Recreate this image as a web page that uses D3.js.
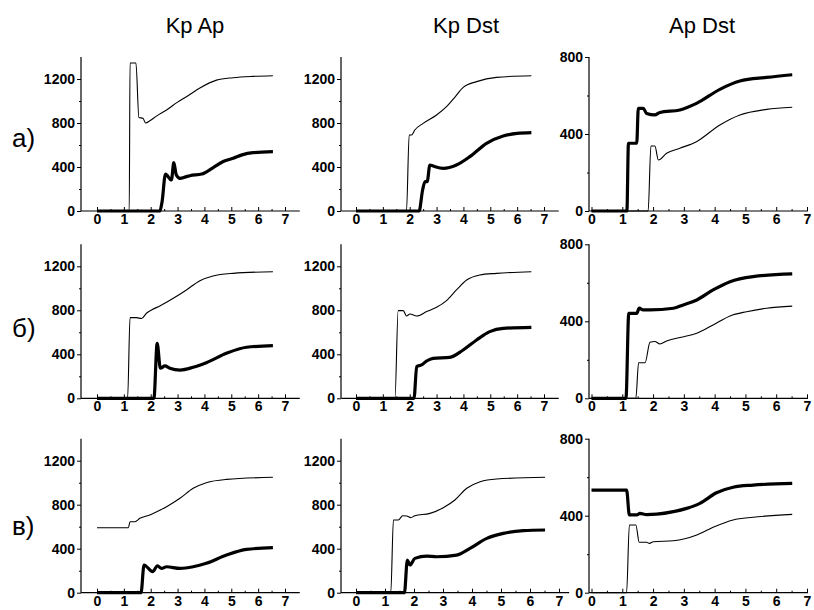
<!DOCTYPE html>
<html>
<head>
<meta charset="utf-8">
<script src="https://cdn.jsdelivr.net/npm/d3@7"></script>
<style>
  html, body { margin: 0; padding: 0; background: #fff; }
  svg { display: block; }
  .tick text { font-family: "Liberation Sans", Arial, sans-serif; font-weight: bold; font-size: 14px; }
</style>
</head>
<body>
<svg id="chart" width="814" height="610"></svg>
<script>
// Column headers and row markers
const columnTitles = ["Kp Ap", "Kp Dst", "Ap Dst"];
const rowLabels = ["а)", "б)", "в)"];

// Tick values
const xTicks = [0, 1, 2, 3, 4, 5, 6, 7];
const xMinorTicks = [0.5, 1.5, 2.5, 3.5, 4.5, 5.5, 6.5];
const yTicksWide = [0, 400, 800, 1200];
const yMinorWide = [200, 600, 1000];
const yTicksNarrow = [0, 400, 800];
const yMinorNarrow = [200, 600];

// Series: [x, value] pairs; "thin" and "thick" curves of every panel
// Row а
const a_KpAp_thin = [[0,0],[1.2,0],[1.23,1345],[1.45,1345],[1.56,850],[1.71,843],[1.81,800],[1.97,820],[2.2,860],[2.59,918],[3.0,990],[3.4,1050],[3.83,1118],[4.45,1190],[5.07,1212],[5.8,1224],[6.55,1230]];
const a_KpAp_thick = [[0,0],[2.34,0],[2.42,80],[2.55,336],[2.77,282],[2.86,439],[2.95,330],[3.09,297],[3.3,310],[3.46,321],[3.9,336],[4.3,390],[4.7,450],[5.07,479],[5.4,510],[5.81,530],[6.55,539]];
const a_KpDst_thin = [[0,0],[1.88,0],[1.98,691],[2.07,691],[2.19,736],[2.5,797],[3.0,873],[3.37,948],[3.7,1040],[3.99,1124],[4.49,1176],[5.23,1215],[6.53,1230]];
const a_KpDst_thick = [[0,0],[2.35,0],[2.48,191],[2.57,267],[2.65,267],[2.75,418],[2.87,409],[3.25,388],[3.74,418],[4.24,494],[4.86,615],[5.48,682],[6.0,705],[6.53,712]];
const a_ApDst_thin = [[0,0],[1.84,0],[1.93,338],[2.06,338],[2.17,265],[2.44,300],[2.87,326],[3.41,360],[4.17,447],[4.82,499],[5.69,528],[6.52,539]];
const a_ApDst_thick = [[0,0],[1.15,0],[1.2,352],[1.47,352],[1.52,533],[1.68,533],[1.79,507],[2.06,499],[2.22,512],[2.87,525],[3.41,559],[4.17,632],[4.82,675],[5.69,694],[6.52,708]];

// Row б
const b_KpAp_thin = [[0,0],[1.14,0],[1.23,733],[1.47,733],[1.66,725],[1.84,773],[2.03,803],[2.34,839],[2.84,909],[3.33,985],[3.83,1069],[4.32,1112],[5.07,1136],[6.55,1151]];
const b_KpAp_thick = [[0,0],[2.12,0],[2.24,500],[2.36,273],[2.53,294],[2.71,273],[3.09,257],[3.58,282],[4.07,324],[4.82,409],[5.57,464],[6.55,478]];
const b_KpDst_thin = [[0,0],[1.45,0],[1.57,797],[1.76,797],[1.88,748],[2.01,766],[2.26,748],[2.63,788],[3.0,827],[3.37,888],[3.74,985],[4.12,1075],[4.61,1121],[5.23,1136],[6.53,1151]];
const b_KpDst_thick = [[0,0],[2.16,0],[2.26,288],[2.44,303],[2.63,339],[2.87,363],[3.49,372],[3.99,439],[4.49,530],[4.98,606],[5.48,636],[6.53,645]];
const b_ApDst_thin = [[0,0],[1.44,0],[1.53,185],[1.74,185],[1.9,291],[2.06,295],[2.22,282],[2.44,298],[3.0,320],[3.42,338],[3.95,381],[4.5,428],[5.04,450],[5.69,468],[6.52,479]];
const b_ApDst_thick = [[0,0],[1.12,0],[1.21,441],[1.47,441],[1.55,468],[1.68,459],[1.9,459],[2.66,468],[2.98,485],[3.42,511],[3.95,563],[4.5,606],[5.25,632],[6.52,646]];

// Row в
const c_KpAp_thin = [[0,591],[1.17,591],[1.23,645],[1.41,645],[1.6,676],[1.85,697],[2.09,721],[2.59,782],[3.09,858],[3.58,949],[4.07,1000],[4.82,1030],[6.55,1049]];
const c_KpAp_thick = [[0,0],[1.64,0],[1.75,252],[2.07,191],[2.25,245],[2.4,221],[2.59,236],[3.09,221],[3.58,236],[4.07,267],[4.82,342],[5.57,394],[6.55,409]];
const c_KpDst_thin = [[0,0],[1.2,0],[1.29,661],[1.46,661],[1.61,700],[1.75,697],[1.89,682],[2.03,700],[2.55,721],[3.01,773],[3.41,843],[3.82,949],[4.28,1009],[4.85,1034],[6.52,1049]];
const c_KpDst_thick = [[0,0],[1.67,0],[1.77,297],[1.86,252],[2.03,312],[2.44,333],[2.78,327],[3.47,342],[3.93,403],[4.51,494],[5.08,539],[5.77,564],[6.52,570]];
const c_ApDst_thin = [[0,0],[1.14,0],[1.23,352],[1.44,352],[1.55,262],[1.79,262],[1.88,256],[2.01,265],[2.66,270],[3.42,300],[3.95,340],[4.6,378],[5.25,392],[6.52,407]];
const c_ApDst_thick = [[0,533],[1.14,533],[1.23,404],[1.47,404],[1.57,412],[1.79,406],[2.12,408],[2.66,421],[3.09,438],[3.52,464],[4.06,519],[4.6,548],[5.25,559],[6.52,568]];

const seriesGrid = [
  [[a_KpAp_thin, a_KpAp_thick], [a_KpDst_thin, a_KpDst_thick], [a_ApDst_thin, a_ApDst_thick]],
  [[b_KpAp_thin, b_KpAp_thick], [b_KpDst_thin, b_KpDst_thick], [b_ApDst_thin, b_ApDst_thick]],
  [[c_KpAp_thin, c_KpAp_thick], [c_KpDst_thin, c_KpDst_thick], [c_ApDst_thin, c_ApDst_thick]]
];

// ---- layout ----
const rowBase = [211, 398.3, 592.7];     // pixel row of value 0 in each row
const plotHeight = 154;
const colAxisX = [81, 341, 589];          // y axis position per column
const colXRange = [[97, 285], [356, 544], [591.5, 807]]; // pixels for x = 0 and x = 7
const colAxisSpan = [[-0.6, 7.55], [-0.55, 7.55], [-0.08, 7.03]];
const colYMax = [1400, 1400, 800];

const svg = d3.select("#chart");
const font = '"Liberation Sans", Arial, sans-serif';

// Column titles
const titleX = [195, 466, 702];
columnTitles.forEach((t, i) => {
  svg.append("text").attr("x", titleX[i]).attr("y", 33)
    .attr("text-anchor", "middle")
    .attr("font-family", font).attr("font-size", 22)
    .text(t);
});

// Row labels
const rowLabelY = [147, 337, 535];
rowLabels.forEach((t, i) => {
  svg.append("text").attr("x", 12).attr("y", rowLabelY[i])
    .attr("font-family", font).attr("font-size", 26)
    .text(t);
});

const line = (x, y) => d3.line().curve(d3.curveMonotoneX).x(d => x(d[0])).y(d => y(d[1]));

for (let r = 0; r < 3; r++) {
  for (let c = 0; c < 3; c++) {
    let xr = colXRange[c].slice();
    let span = colAxisSpan[c].slice();
    if (r === 2 && c === 1) { xr = [356, 559]; span = [-0.52, 7.35]; }
    const x = d3.scaleLinear().domain([0, 7]).range(xr);
    const y = d3.scaleLinear().domain([0, colYMax[c]]).range([rowBase[r], rowBase[r] - plotHeight]);
    const g = svg.append("g");
    const yMajor = c === 2 ? yTicksNarrow : yTicksWide;
    const yMinor = c === 2 ? yMinorNarrow : yMinorWide;

    // y axis
    const gy = g.append("g").attr("transform", `translate(${colAxisX[c]},0)`);
    gy.call(d3.axisLeft(y).tickValues(yMajor).tickSize(4).tickPadding(2).tickFormat(d3.format("d")));
    gy.call(s => s.select(".domain").remove());
    const gym = g.append("g").attr("transform", `translate(${colAxisX[c]},0)`);
    gym.call(d3.axisLeft(y).tickValues(yMinor).tickSize(2).tickFormat(""));
    gym.select(".domain").remove();
    g.append("line")
      .attr("x1", colAxisX[c]).attr("x2", colAxisX[c])
      .attr("y1", y(0)).attr("y2", y(colYMax[c]))
      .attr("stroke", "#000").attr("stroke-width", 1.2);

    // x axis
    const gx = g.append("g").attr("transform", `translate(0,${rowBase[r]})`);
    gx.call(d3.axisBottom(x).tickValues(xTicks).tickSizeInner(-4).tickSizeOuter(0).tickPadding(4).tickFormat(d3.format("d")));
    gx.select(".domain").remove();
    gx.selectAll(".tick text").attr("y", 3);
    const gxm = g.append("g").attr("transform", `translate(0,${rowBase[r]})`);
    gxm.call(d3.axisBottom(x).tickValues(xMinorTicks).tickSizeInner(-2).tickSizeOuter(0).tickFormat(""));
    gxm.select(".domain").remove();
    g.append("line")
      .attr("x1", x(span[0])).attr("x2", x(span[1]))
      .attr("y1", rowBase[r]).attr("y2", rowBase[r])
      .attr("stroke", "#000").attr("stroke-width", 1.2);

    g.selectAll(".tick line").attr("stroke", "#000");
    g.selectAll(".tick text").attr("fill", "#000");

    const [thin, thick] = seriesGrid[r][c];
    g.append("path").datum(thin).attr("d", line(x, y))
      .attr("fill", "none").attr("stroke", "#000").attr("stroke-width", 1.1)
      .attr("stroke-linejoin", "round");
    g.append("path").datum(thick).attr("d", line(x, y))
      .attr("fill", "none").attr("stroke", "#000").attr("stroke-width", 3.2)
      .attr("stroke-linejoin", "round");
  }
}
</script>
</body>
</html>
